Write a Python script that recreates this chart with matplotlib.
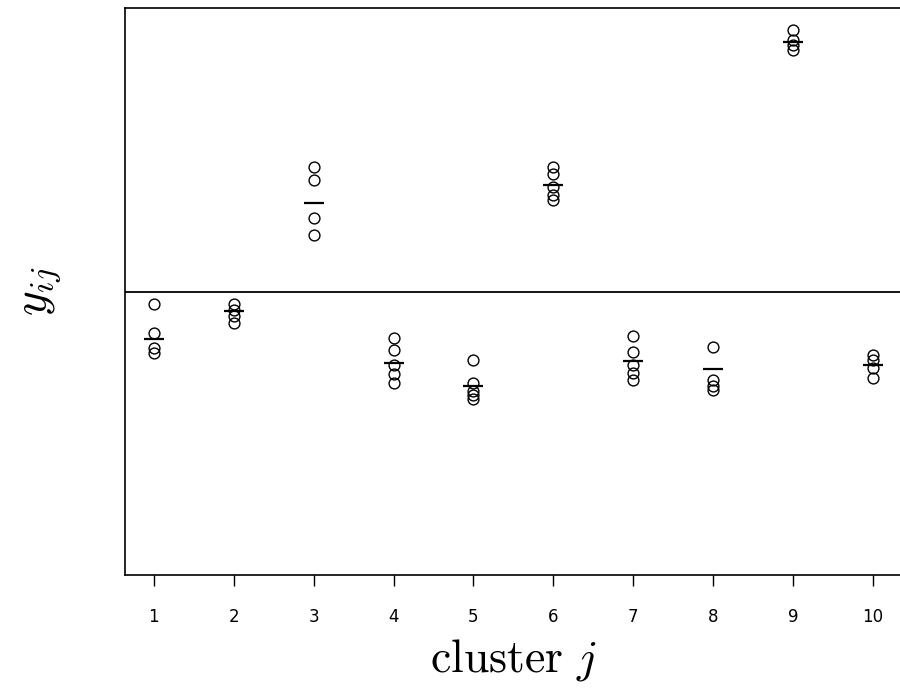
import matplotlib
matplotlib.use('Agg')
import matplotlib.pyplot as plt
import numpy as np

plt.rcParams['mathtext.fontset'] = 'cm'

clusters = [1, 2, 3, 4, 5, 6, 7, 8, 9, 10]
obs = [
    [-0.12, -0.41, -0.56, -0.61],
    [-0.12, -0.18, -0.24, -0.31],
    [1.25, 1.12, 0.74, 0.57],
    [-0.46, -0.58, -0.73, -0.82, -0.91],
    [-0.68, -0.91, -0.99, -1.03, -1.07],
    [1.25, 1.18, 1.05, 0.97, 0.92],
    [-0.44, -0.60, -0.73, -0.81, -0.88],
    [-0.55, -0.88, -0.94, -0.98],
    [2.62, 2.52, 2.47, 2.42],
    [-0.63, -0.68, -0.76, -0.86],
]
means = [-0.47, -0.19, 0.89, -0.71, -0.94, 1.07, -0.69, -0.77, 2.50, -0.73]
tick_labels = ['1', '2', '3', '4', '5', '6', '7', '8', '9', '10']

fig = plt.figure(figsize=(9, 6.91), dpi=100)
ax = fig.add_axes([0.139, 0.168, 0.863, 0.8206])

for c, ys in zip(clusters, obs):
    ax.plot([c] * len(ys), ys, 'o', mfc='none', mec='black', ms=7.8, mew=1.0)

ax.plot(clusters, means, '_', color='black', ms=15, mew=1.6)

ax.axhline(0, color='black', lw=1.3)

ax.set_xlim(0.64, 10.36)
ax.set_ylim(-2.83, 2.84)
ax.set_xticks(clusters)
ax.set_xticklabels(tick_labels, fontsize=12)
ax.set_yticks([])
ax.tick_params(axis='x', direction='out', length=8, width=1, pad=16)
for s in ax.spines.values():
    s.set_linewidth(1.2)

ax.set_xlabel(r'$\mathrm{cluster}\ j$', fontsize=33, labelpad=8)
ax.set_ylabel(r'$y_{ij}$', fontsize=34, labelpad=44)

fig.savefig('out.png', dpi=100)
